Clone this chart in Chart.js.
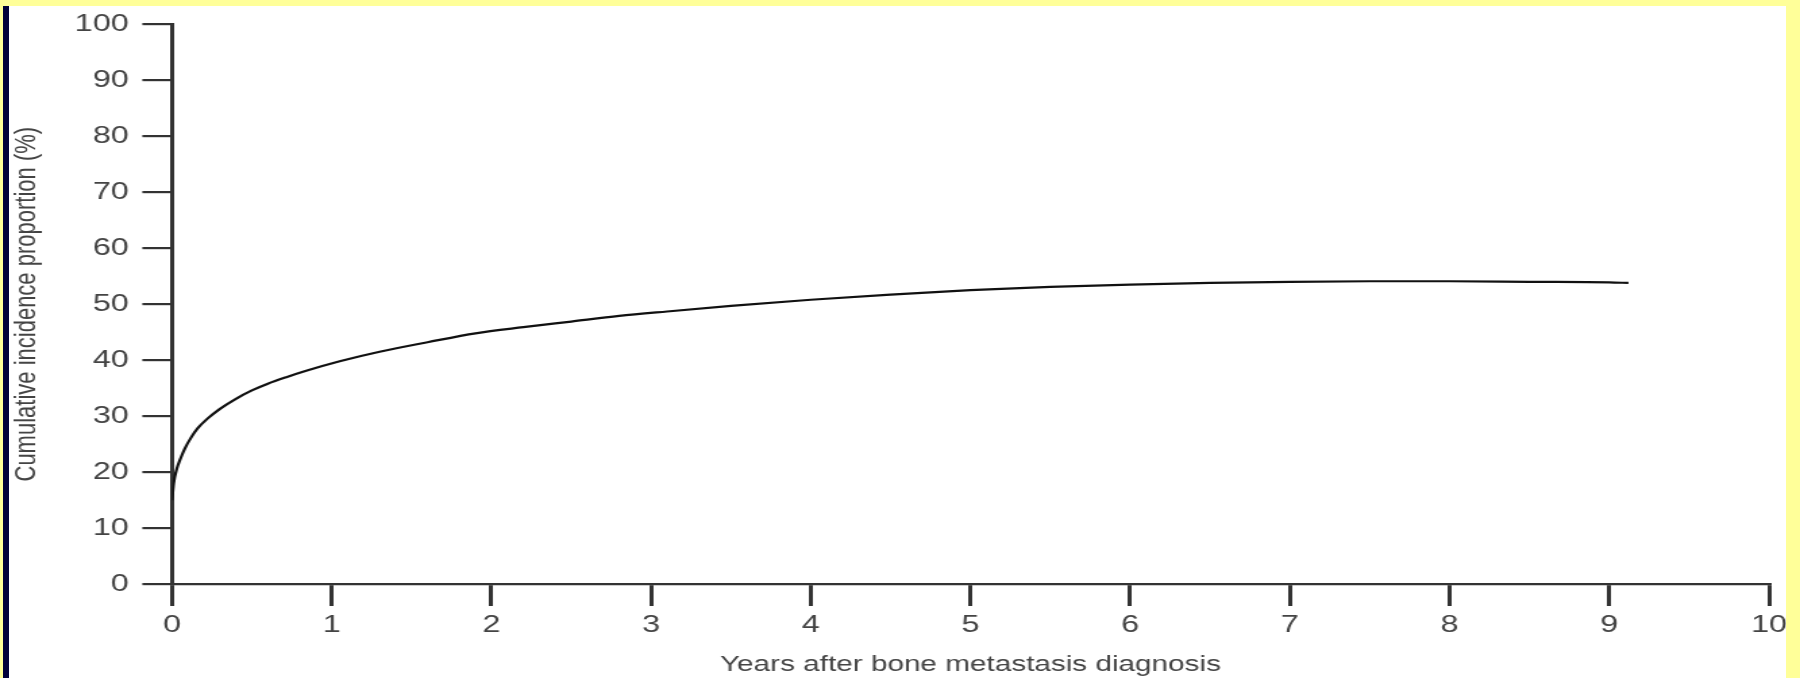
<!DOCTYPE html>
<html>
<head>
<meta charset="utf-8">
<script src="https://cdn.jsdelivr.net/npm/chart.js@4/dist/chart.umd.min.js"></script>
<style>
  html, body { margin: 0; padding: 0; width: 1800px; height: 678px; overflow: hidden; background: #ffffff; }
  #wrap { position: absolute; left: 0; top: 0; width: 1333px; height: 678px; transform: scaleX(1.35034); transform-origin: 0 0; }
  .band { position: absolute; z-index: 5; }
</style>
</head>
<body>
<div id="wrap"><canvas id="c" width="1333" height="678"></canvas></div>
<div class="band" style="left:0;top:0;width:1800px;height:6px;background:#ffff99;"></div>
<div class="band" style="left:0;top:0;width:3px;height:678px;background:#ffff99;"></div>
<div class="band" style="left:3px;top:6px;width:6px;height:672px;background:#02023a;"></div>
<div class="band" style="left:1786px;top:0;width:14px;height:678px;background:#ffff99;"></div>
<script>
// Data
const years = [0, 0.01, 0.03, 0.05, 0.08, 0.12, 0.16, 0.22, 0.3, 0.4, 0.5, 0.6, 0.72, 0.84, 1.05, 1.3, 1.6, 1.9, 2.2, 2.5, 2.8, 3.1, 3.5, 4.0, 4.5, 5.0, 5.5, 6.0, 6.5, 7.0, 7.5, 8.0, 8.5, 9.0, 9.12];
const incidence = [15, 18, 20.6, 22.2, 24.2, 26.2, 27.8, 29.5, 31.3, 33.1, 34.6, 35.8, 37.0, 38.1, 39.8, 41.5, 43.2, 44.8, 45.9, 46.9, 47.9, 48.7, 49.7, 50.8, 51.7, 52.5, 53.1, 53.5, 53.8, 54.0, 54.1, 54.1, 54.0, 53.9, 53.8];
const xTicks = [0, 1, 2, 3, 4, 5, 6, 7, 8, 9, 10];
const yTicks = [0, 10, 20, 30, 40, 50, 60, 70, 80, 90, 100];
const xTitle = 'Years after bone metastasis diagnosis';
const yTitle = 'Cumulative incidence proportion (%)';

const points = years.map((x, i) => ({ x: x, y: incidence[i] }));
const FONT = '"Liberation Sans", Arial, Helvetica, sans-serif';
const AXIS = '#333333';
const TEXT = '#444444';

new Chart(document.getElementById('c'), {
  type: 'scatter',
  data: {
    datasets: [{
      data: points,
      showLine: true,
      borderColor: '#111111',
      borderWidth: 2.2,
      pointRadius: 0,
      cubicInterpolationMode: 'monotone',
      fill: false
    }]
  },
  options: {
    responsive: false,
    animation: false,
    devicePixelRatio: 1,
    layout: { padding: { top: 20, right: 23, bottom: 0, left: 0 } },
    plugins: { legend: { display: false }, tooltip: { enabled: false } },
    scales: {
      x: {
        type: 'linear',
        min: 0, max: 10,
        afterBuildTicks: (s) => { s.ticks = xTicks.map(v => ({ value: v })); },
        afterFit: (s) => { s.height = 94; },
        ticks: { autoSkip: false, maxRotation: 0, padding: 5, color: TEXT, font: { family: FONT, size: 24 } },
        grid: { drawOnChartArea: false, drawTicks: true, tickLength: 22, lineWidth: 3, color: AXIS },
        border: { display: true, color: AXIS, width: 2.2 },
        title: { display: true, text: xTitle, color: TEXT, font: { family: FONT, size: 22 }, padding: { top: 5, bottom: 0 } }
      },
      y: {
        type: 'linear',
        min: 0, max: 100,
        afterBuildTicks: (s) => { s.ticks = yTicks.map(v => ({ value: v })); },
        afterFit: (s) => { s.width = 127.4; },
        ticks: { autoSkip: false, padding: 10, color: TEXT, font: { family: FONT, size: 24 } },
        grid: { drawOnChartArea: false, drawTicks: true, tickLength: 22, lineWidth: 2.2, color: AXIS },
        border: { display: true, color: AXIS, width: 3 },
        title: { display: true, text: yTitle, color: TEXT, font: { family: FONT, size: 22 }, padding: { top: 7, bottom: 0 } }
      }
    }
  }
});
</script>
</body>
</html>
